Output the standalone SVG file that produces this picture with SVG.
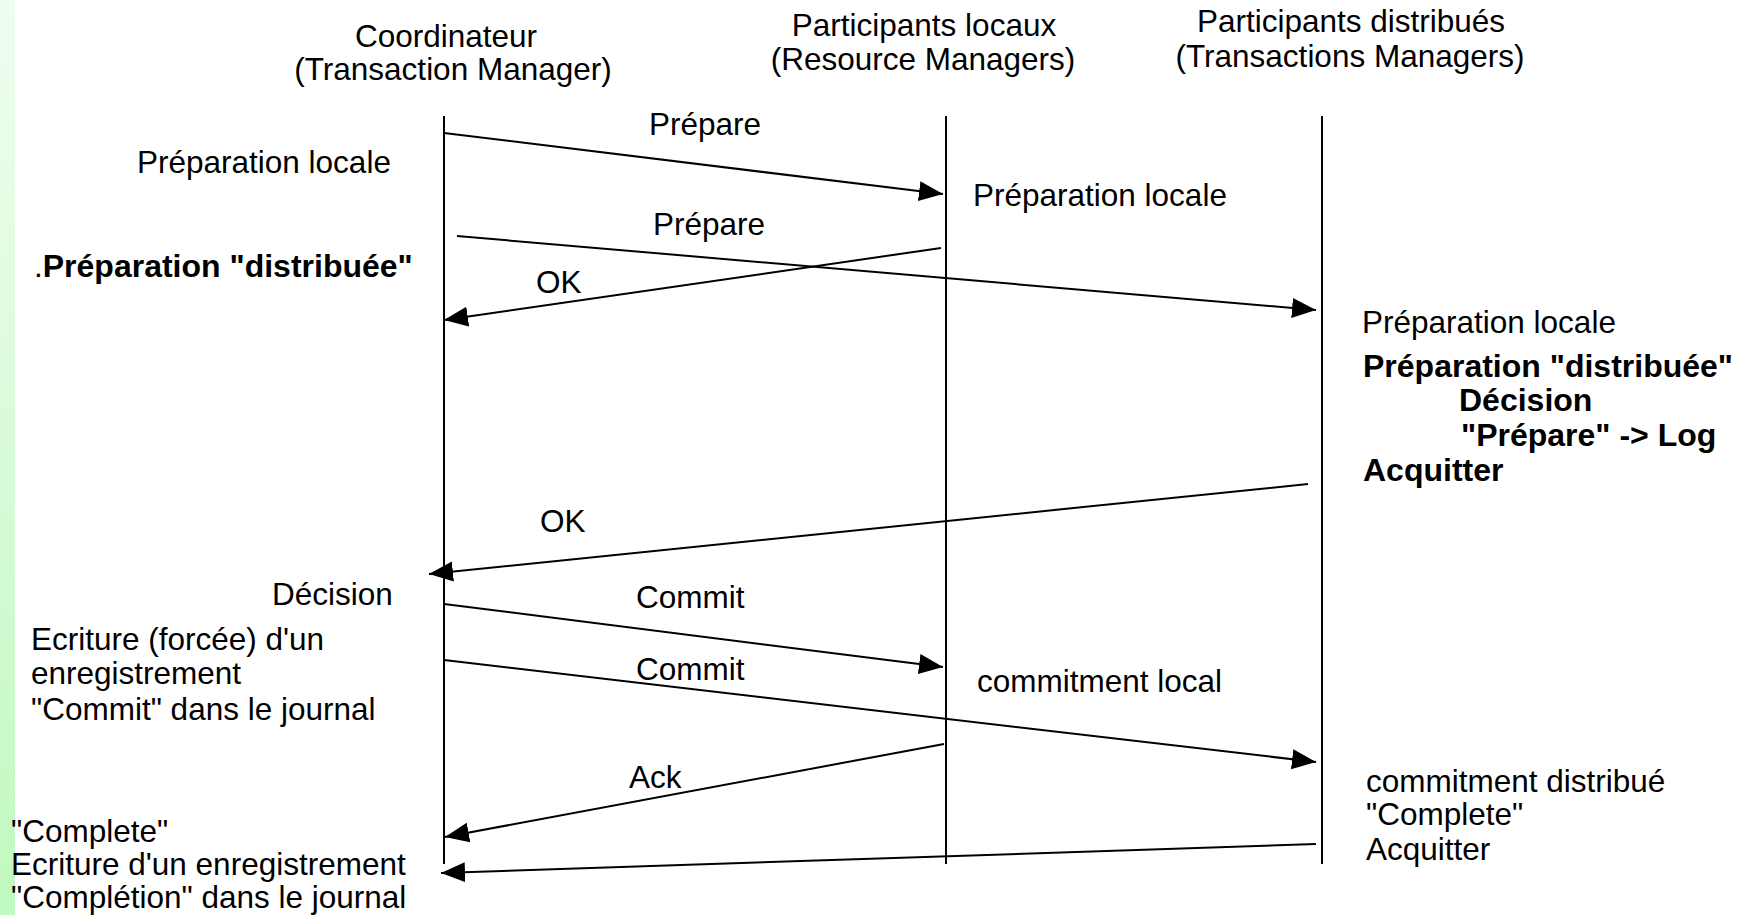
<svg xmlns="http://www.w3.org/2000/svg" width="1749" height="915" viewBox="0 0 1749 915">
<defs>
<linearGradient id="strip" x1="0" y1="0" x2="0" y2="1">
<stop offset="0" stop-color="#f0fdf0"/>
<stop offset="1" stop-color="#c0f9c0"/>
</linearGradient>
<marker id="arr" markerUnits="userSpaceOnUse" markerWidth="26" markerHeight="22" refX="24" refY="10" orient="auto" viewBox="0 0 26 22">
<path d="M0,0 L24,10 L0,20 z" fill="#000"/>
</marker>
<style>
text{font-family:"Liberation Sans",Arial,Helvetica,sans-serif;font-size:31.5px;fill:#000}
.b{font-weight:bold;font-size:32px}
.m{text-anchor:middle}
.life{stroke:#000;stroke-width:2;fill:none}
.msg{stroke:#000;stroke-width:2;fill:none;marker-end:url(#arr)}
</style>
</defs>
<rect x="0" y="0" width="1749" height="915" fill="#fff"/>
<rect x="0" y="0" width="15" height="915" fill="url(#strip)"/>

<g id="coordinateur">
<text class="m" x="446" y="47">Coordinateur</text>
<text class="m" x="453" y="80">(Transaction Manager)</text>
<line class="life" x1="444" y1="116" x2="444" y2="864"/>
</g>
<g id="participants-locaux">
<text class="m" x="924" y="36">Participants locaux</text>
<text class="m" x="923" y="70">(Resource Managers)</text>
<line class="life" x1="946" y1="116" x2="946" y2="864"/>
</g>
<g id="participants-distribues">
<text class="m" x="1351" y="32">Participants distribués</text>
<text class="m" x="1350" y="67">(Transactions Managers)</text>
<line class="life" x1="1322" y1="116" x2="1322" y2="864"/>
</g>

<g id="connectors">
<line class="msg" x1="444" y1="133" x2="943" y2="194"/>
<line class="msg" x1="457" y1="236" x2="1316" y2="310"/>
<line class="msg" x1="941" y1="248" x2="444" y2="320"/>
<line class="msg" x1="1308" y1="484" x2="429" y2="574"/>
<line class="msg" x1="444" y1="604" x2="943" y2="667"/>
<line class="msg" x1="444" y1="660" x2="1316" y2="762"/>
<line class="msg" x1="944" y1="744" x2="445" y2="837"/>
<line class="msg" x1="1316" y1="844" x2="441" y2="873"/>
</g>

<g id="labels">
<text x="649" y="135">Prépare</text>
<text x="653" y="235">Prépare</text>
<text x="536" y="293">OK</text>
<text x="540" y="532">OK</text>
<text x="636" y="608">Commit</text>
<text x="636" y="680">Commit</text>
<text x="629" y="788">Ack</text>
</g>

<g id="notes-coordinateur">
<text x="137" y="173">Préparation locale</text>
<text x="34" y="277">.<tspan class="b">Préparation "distribuée"</tspan></text>
<text x="272" y="605">Décision</text>
<text x="31" y="650">Ecriture (forcée) d'un</text>
<text x="31" y="684">enregistrement</text>
<text x="31" y="720">"Commit" dans le journal</text>
<text x="11" y="842">"Complete"</text>
<text x="11" y="875">Ecriture d'un enregistrement</text>
<text x="11" y="908">"Complétion" dans le journal</text>
</g>

<g id="notes-locaux">
<text x="973" y="206">Préparation locale</text>
<text x="977" y="692">commitment local</text>
</g>

<g id="notes-distribues">
<text x="1362" y="333">Préparation locale</text>
<text class="b" x="1363" y="377">Préparation "distribuée"</text>
<text class="b" x="1459" y="411">Décision</text>
<text class="b" x="1461" y="446">"Prépare" -&gt; Log</text>
<text class="b" x="1363" y="481">Acquitter</text>
<text x="1366" y="792">commitment distribué</text>
<text x="1366" y="825">"Complete"</text>
<text x="1366" y="860">Acquitter</text>
</g>
</svg>
